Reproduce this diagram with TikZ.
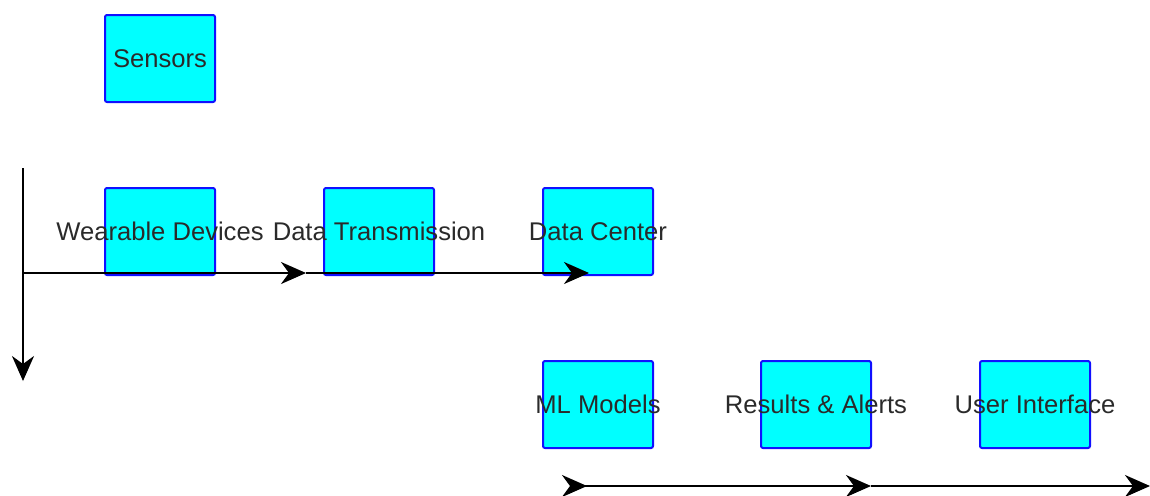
\documentclass[tikz,border=0pt]{standalone}
\usepackage{fontspec}
\setmainfont{Liberation Sans}
\usetikzlibrary{arrows.meta}
\definecolor{boxfill}{HTML}{00FFFF}
\definecolor{boxline}{HTML}{1010FF}
\definecolor{labeltext}{HTML}{2A2A2A}
\tikzset{
  stage/.style={draw=boxline, fill=boxfill, line width=1pt, rounded corners=1pt,
    minimum width=55pt, minimum height=43.5pt, inner sep=0pt},
  stagelabel/.style={text=labeltext, font=\fontsize{12.8}{15}\selectfont},
  flowtip/.tip={Stealth[length=12.5pt,width=11pt,inset=4pt]},
  backtip/.tip={Stealth[length=12.5pt,width=11pt,inset=4pt,reversed]},
  flow/.style={line width=1.1pt, -flowtip},
}
\begin{document}
\begin{tikzpicture}[x=0.5pt,y=-0.5pt]
\useasboundingbox (0,0) rectangle (1150,495);
% Boxes
\node[stage] (sensors) at (160,58.5) {};
\node[stage] (wearable) at (160,231.5) {};
\node[stage] (transmission) at (379,231.5) {};
\node[stage] (center) at (598,231.5) {};
\node[stage] (models) at (598,404.5) {};
\node[stage] (results) at (816,404.5) {};
\node[stage] (interface) at (1035,404.5) {};
% Labels sit on top of the boxes
\node[stagelabel] at (sensors) {Sensors};
\node[stagelabel] at (wearable) {Wearable Devices};
\node[stagelabel] at (transmission) {Data Transmission};
\node[stagelabel] at (center) {Data Center};
\node[stagelabel] at (models) {ML Models};
\node[stagelabel] at (results) {Results \& Alerts};
\node[stagelabel] at (interface) {User Interface};
% Arrow ends
\coordinate (vtop) at (23,168);
\coordinate (vbot) at (23,381);
\coordinate (hstart) at (23,273);
\coordinate (hmid) at (306,273);
\coordinate (hend) at (589,273);
\coordinate (bstart) at (562,486);
\coordinate (bmid) at (871,486);
\coordinate (bend) at (1150,486);
% Vertical axis
\draw[flow] (vtop) -- (vbot);
% Upper row of arrows
\draw[flow] (hstart) -- (hmid);
\draw[flow] (hmid) -- (hend);
% Lower row of arrows
\draw[flow, backtip-flowtip] (bstart) -- (bmid);
\draw[flow] (bmid) -- (bend);
\end{tikzpicture}
\end{document}
